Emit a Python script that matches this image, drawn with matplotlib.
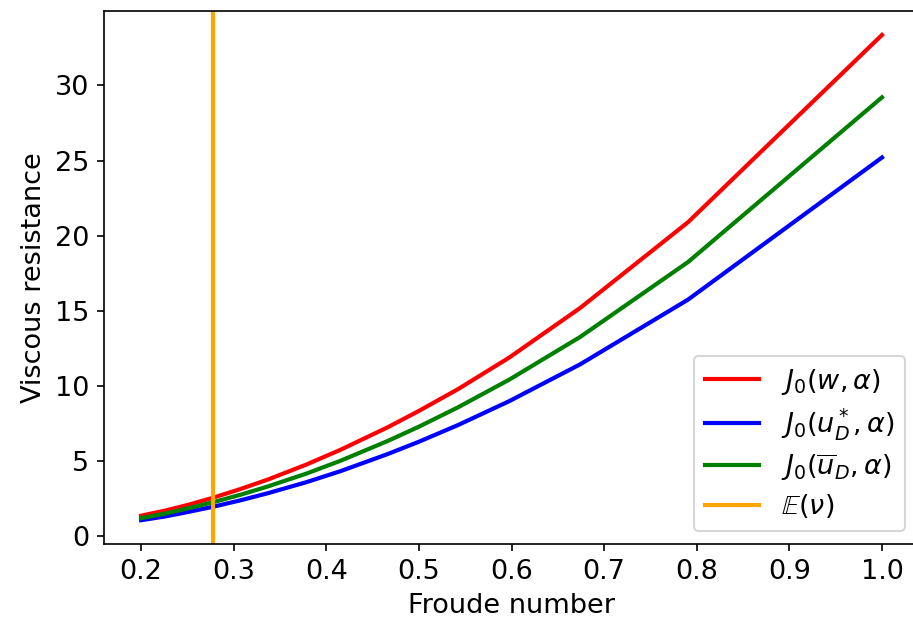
import matplotlib
matplotlib.use('Agg')
import matplotlib.pyplot as plt

plt.rcParams['font.size'] = 13

# Froude numbers where the resistance was evaluated
froude = [1.0, 0.7906, 0.6742, 0.5976, 0.5423, 0.5, 0.4663, 0.4152,
          0.3780, 0.3371, 0.3071, 0.2774, 0.25, 0.2259, 0.2]

# viscous resistance for the three velocity fields
j0_w = [33.35, 20.9, 15.2, 11.9, 9.8, 8.35, 7.26, 5.76,
        4.77, 3.79, 3.15, 2.57, 2.09, 1.72, 1.38]
j0_ustar = [25.2, 15.75, 11.45, 9.0, 7.41, 6.3, 5.48, 4.34,
            3.60, 2.88, 2.40, 1.97, 1.62, 1.33, 1.08]
j0_ubar = [29.2, 18.25, 13.27, 10.43, 8.59, 7.3, 6.35, 5.03,
           4.17, 3.33, 2.77, 2.27, 1.86, 1.52, 1.22]

# expected Froude number
e_nu = 0.2774

fig, ax = plt.subplots(figsize=(913/150, 628/150), dpi=150)
fig.subplots_adjust(left=0.114, right=1.0066, bottom=0.133, top=0.983)

ax.plot(froude, j0_w, color='red', lw=2, label=r'$J_0(w, \alpha)$')
ax.plot(froude, j0_ustar, color='blue', lw=2, label=r'$J_0(u_D^*, \alpha)$')
ax.plot(froude, j0_ubar, color='green', lw=2, label=r'$J_0(\overline{u}_D, \alpha)$')
ax.axvline(e_nu, color='orange', lw=2, label=r'$\mathbb{E}(\nu)$')

ax.set_xlabel('Froude number')
ax.set_ylabel('Viscous resistance')
ax.legend(loc='lower right', labelspacing=0.34)

fig.savefig('out.png', dpi=150)
